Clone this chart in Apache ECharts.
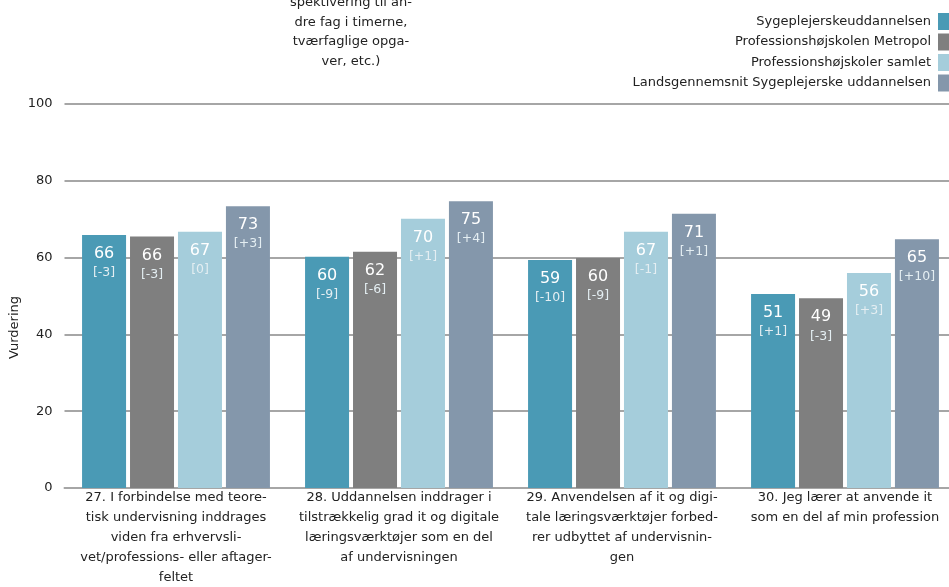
<!DOCTYPE html>
<html>
<head>
<meta charset="utf-8">
<script src="https://cdn.jsdelivr.net/npm/echarts@6/dist/echarts.min.js"></script>
<style>
  html, body { margin: 0; padding: 0; background: #fff; }
  #chart { width: 949px; height: 587px; }
</style>
</head>
<body>
<div id="chart"></div>
<script>
// kategorier (spørgsmål)
const categories = [
  '27. I forbindelse med teore-\ntisk undervisning inddrages\nviden fra erhvervsli-\nvet/professions- eller aftager-\nfeltet',
  '28. Uddannelsen inddrager i\ntilstrækkelig grad it og digitale\nlæringsværktøjer som en del\naf undervisningen',
  '29. Anvendelsen af it og digi-\ntale læringsværktøjer forbed-\nrer udbyttet af undervisnin-\ngen',
  '30. Jeg lærer at anvende it\nsom en del af min profession'
];
const seriesNames = [
  'Sygeplejerskeuddannelsen',
  'Professionshøjskolen Metropol',
  'Professionshøjskoler samlet',
  'Landsgennemsnit Sygeplejerske uddannelsen'
];
// vurderinger
const sygeplejerske = [65.9, 60.2, 59.4, 50.5];
const metropol = [65.5, 61.5, 59.9, 49.4];
const phSamlet = [66.7, 70.1, 66.7, 56.0];
const landsgennemsnit = [73.4, 74.7, 71.4, 64.8];
// ændringer i klammer
const diffSygeplejerske = ['-3', '-9', '-10', '+1'];
const diffMetropol = ['-3', '-6', '-9', '-3'];
const diffPhSamlet = ['0', '+1', '-1', '+3'];
const diffLands = ['+3', '+4', '+1', '+10'];
const yTicks = [0, 20, 40, 60, 80, 100];

const colors = ['#4a9ab5', '#7f7f7f', '#a5cddb', '#8497ab'];
const FONT = 'DejaVu Sans';

const allValues = [sygeplejerske, metropol, phSamlet, landsgennemsnit];
const allDiffs = [diffSygeplejerske, diffMetropol, diffPhSamlet, diffLands];

const myChart = echarts.init(document.getElementById('chart'));

const series = allValues.map((vals, i) => ({
  name: seriesNames[i],
  type: 'bar',
  data: vals,
  barWidth: 44,
  barGap: '9%',
  itemStyle: { color: colors[i] },
  label: {
    show: true,
    position: 'insideTop',
    distance: 9,
    formatter: p => '{v|' + Math.round(p.value) + '}\n{d|[' + allDiffs[i][p.dataIndex] + ']}',
    rich: {
      v: { color: '#fff', fontSize: 16, fontFamily: FONT, lineHeight: 20 },
      d: { color: '#e4eef2', fontSize: 12.5, fontFamily: FONT, lineHeight: 18 }
    }
  }
}));

myChart.setOption({
  animation: false,
  textStyle: { fontFamily: FONT },
  legend: {
    orient: 'vertical',
    right: -5,
    top: 8,
    align: 'right',
    itemWidth: 11,
    itemHeight: 17,
    itemGap: 3.5,
    icon: 'rect',
    textStyle: { fontSize: 13, color: '#222', fontFamily: FONT, padding: [0, 2, 0, 0] },
    data: seriesNames
  },
  graphic: [{
    type: 'text',
    left: 290,
    top: -7,
    style: {
      text: 'spektivering til an-\ndre fag i timerne,\ntværfaglige opga-\nver, etc.)',
      x: 0,
      textAlign: 'center',
      fontSize: 13,
      lineHeight: 19.5,
      fontFamily: FONT,
      fill: '#222'
    }
  }, {
    type: 'text',
    left: 8,
    top: 296,
    rotation: Math.PI / 2,
    style: {
      text: 'Vurdering',
      textAlign: 'center',
      textVerticalAlign: 'middle',
      fontSize: 13,
      fontFamily: FONT,
      fill: '#222'
    }
  }],
  grid: { left: 64.5, right: -7.5, top: 104, bottom: 99, containLabel: false, outerBoundsMode: 'none' },
  xAxis: {
    type: 'category',
    data: categories,
    axisTick: { show: false },
    axisLine: { show: true, lineStyle: { color: '#a6a6a6', width: 2 } },
    axisLabel: {
      interval: 0,
      margin: 0,
      color: '#222',
      fontSize: 13,
      lineHeight: 20,
      fontFamily: FONT
    }
  },
  yAxis: {
    type: 'value',
    min: yTicks[0],
    max: yTicks[yTicks.length - 1],
    interval: 20,
    axisLine: { show: false },
    axisTick: { show: false },
    axisLabel: { color: '#222', fontSize: 13, margin: 12, fontFamily: FONT },
    splitLine: { lineStyle: { color: '#a6a6a6', width: 2 } }
  },
  series: series
});
</script>
</body>
</html>
